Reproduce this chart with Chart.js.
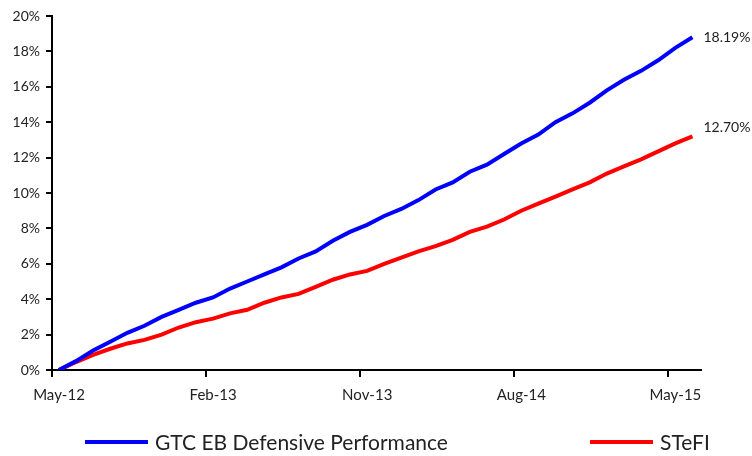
<!DOCTYPE html>
<html>
<head>
  <title>GTC EB Defensive vs STeFI</title>
  <script src="https://cdn.jsdelivr.net/npm/chart.js"></script>
  <style>
    body { margin: 0; background: #fff; }
    #wrap { width: 752px; height: 456px; }
  </style>
</head>
<body>
<div id="wrap"><canvas id="myChart" width="752" height="456"></canvas></div>

<script>
  // monthly readings, May-12 .. Jun-15 (cumulative return, %)
  const months = ['May-12','Jun-12','Jul-12','Aug-12','Sep-12','Oct-12','Nov-12','Dec-12',
    'Jan-13','Feb-13','Mar-13','Apr-13','May-13','Jun-13','Jul-13','Aug-13','Sep-13','Oct-13',
    'Nov-13','Dec-13','Jan-14','Feb-14','Mar-14','Apr-14','May-14','Jun-14','Jul-14','Aug-14',
    'Sep-14','Oct-14','Nov-14','Dec-14','Jan-15','Feb-15','Mar-15','Apr-15','May-15','Jun-15'];
  const gtcValues = [0, 0.5, 1.1, 1.6, 2.1, 2.5, 3.0, 3.4, 3.8, 4.1, 4.6, 5.0, 5.4, 5.8, 6.3, 6.7,
    7.3, 7.8, 8.2, 8.7, 9.1, 9.6, 10.2, 10.6, 11.2, 11.6, 12.2, 12.8, 13.3, 14.0, 14.5, 15.1,
    15.8, 16.4, 16.9, 17.5, 18.2, 18.8];
  const stefiValues = [0, 0.45, 0.85, 1.2, 1.5, 1.7, 2.0, 2.4, 2.7, 2.9, 3.2, 3.4, 3.8, 4.1, 4.3, 4.7,
    5.1, 5.4, 5.6, 6.0, 6.35, 6.7, 7.0, 7.35, 7.8, 8.1, 8.5, 9.0, 9.4, 9.8, 10.2, 10.6,
    11.1, 11.5, 11.9, 12.35, 12.8, 13.2];
  const seriesNames = ['GTC EB Defensive Performance', 'STeFI'];
  const endLabels = ['18.19%', '12.70%'];
  const tickLabels = ['May-12', 'Feb-13', 'Nov-13', 'Aug-14', 'May-15'];
  const tickMonths = [0, 9, 18, 27, 36];
  const yTicks = [0, 2, 4, 6, 8, 10, 12, 14, 16, 18, 20];

  const dayInMonth = 0.4; // readings fall ~12th of each month
  const toPoints = vals => vals.map((v, i) => ({ x: i + dayInMonth, y: v }));

  const FONT = 'Lato, "Open Sans", sans-serif';

  // end-of-line value labels + legend underneath
  const extras = {
    id: 'extras',
    afterDraw(chart) {
      const ctx = chart.ctx;
      const offs = [0, -9];
      ctx.save();
      ctx.font = '14px ' + FONT;
      ctx.fillStyle = '#222';
      ctx.textBaseline = 'middle';
      ctx.textAlign = 'left';
      chart.data.datasets.forEach((ds, k) => {
        const meta = chart.getDatasetMeta(k);
        const last = meta.data[meta.data.length - 1];
        ctx.fillText(endLabels[k], last.x + 11, last.y + offs[k]);
      });

      const legendX = [85, 590];
      const legendY = 442;
      ctx.font = '21px ' + FONT;
      chart.data.datasets.forEach((ds, k) => {
        ctx.strokeStyle = ds.borderColor;
        ctx.lineWidth = 4;
        ctx.beginPath();
        ctx.moveTo(legendX[k], legendY);
        ctx.lineTo(legendX[k] + 63, legendY);
        ctx.stroke();
        ctx.fillText(ds.label, legendX[k] + 70, legendY + 1);
      });
      ctx.restore();
    }
  };

  const myChart = new Chart(document.getElementById('myChart'), {
    type: 'line',
    data: {
      datasets: [
        {
          label: seriesNames[0],
          data: toPoints(gtcValues),
          borderColor: '#0000ff',
          borderWidth: 4,
          pointRadius: 0,
          tension: 0,
          fill: false
        },
        {
          label: seriesNames[1],
          data: toPoints(stefiValues),
          borderColor: '#ff0000',
          borderWidth: 4,
          pointRadius: 0,
          tension: 0,
          fill: false
        }
      ]
    },
    options: {
      responsive: false,
      animation: false,
      devicePixelRatio: 1,
      layout: { padding: { left: 0, right: 51, top: 16, bottom: 46 } },
      plugins: {
        legend: { display: false },
        tooltip: { enabled: false }
      },
      scales: {
        x: {
          type: 'linear',
          min: 0,
          max: 37.9,
          afterBuildTicks: s => { s.ticks = tickMonths.map(v => ({ value: v })); },
          afterFit: s => { s.height = 40; },
          ticks: {
            autoSkip: false,
            maxRotation: 0,
            labelOffset: 7,
            padding: 9,
            color: '#222',
            font: { family: FONT, size: 15 },
            callback: (v) => tickLabels[tickMonths.indexOf(v)]
          },
          grid: { drawOnChartArea: false, drawTicks: true, tickLength: 7, color: '#000', lineWidth: 2 },
          border: { color: '#000', width: 2 }
        },
        y: {
          min: 0,
          max: 20,
          afterBuildTicks: s => { s.ticks = yTicks.map(v => ({ value: v })); },
          afterFit: s => { s.width = 52; },
          ticks: {
            padding: 6,
            color: '#222',
            font: { family: FONT, size: 14 },
            callback: v => v + '%'
          },
          grid: { drawOnChartArea: false, drawTicks: true, tickLength: 6, color: '#000', lineWidth: 2 },
          border: { color: '#000', width: 2 }
        }
      }
    },
    plugins: [extras]
  });
</script>
</body>
</html>
